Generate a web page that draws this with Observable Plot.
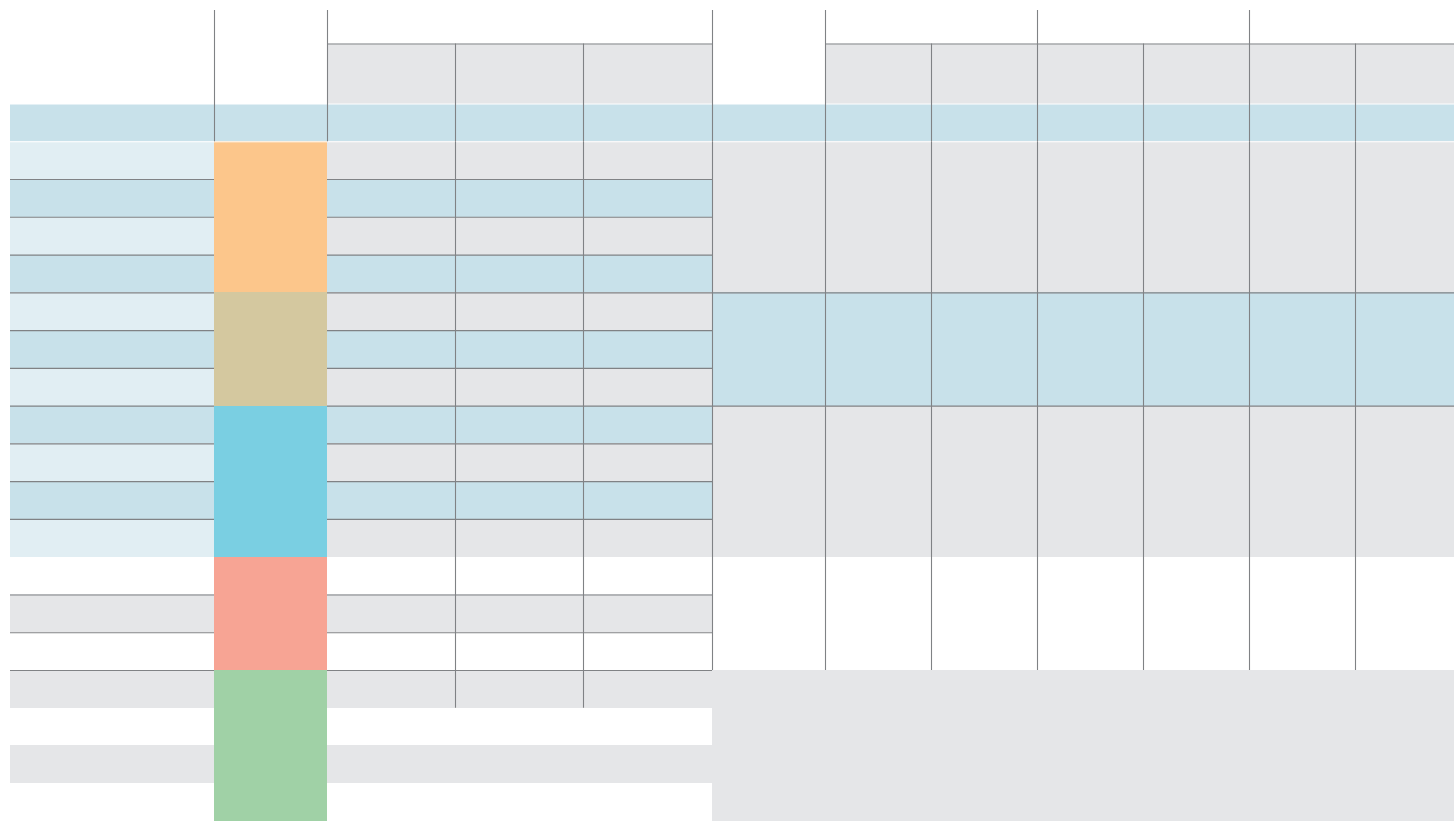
<!DOCTYPE html>
<html><head><meta charset="utf-8">
<script src="https://cdn.jsdelivr.net/npm/d3@7"></script>
<script src="https://cdn.jsdelivr.net/npm/@observablehq/plot@0.6"></script>
<style>html,body{margin:0;padding:0;background:#fff}svg{display:block}</style>
</head><body><div id="chart"></div>
<script>
// ---- Table structure (data) ----
const columns = ["A","B","C","D","E","F","G","H","I","J","K","L"];
// rows: two header rows, then body rows r0..r18
const rows = ["h1","h2","r0","r1","r2","r3","r4","r5","r6","r7","r8","r9","r10","r11","r12","r13","r14","r15","r16","r17","r18"];

// fill codes per column, one per row (h1, h2, r0..r18)
// W white, G gray, B blue, L light blue, O orange, T tan, C cyan, S salmon, N green
const colA = ["W","W","B","L","B","L","B","L","B","L","B","L","B","L","W","G","W","G","W","G","W"];
const colB = ["W","W","B","O","O","O","O","T","T","T","C","C","C","C","S","S","S","N","N","N","N"];
const colC = ["W","G","B","G","B","G","B","G","B","G","B","G","B","G","W","G","W","G","W","G","W"];
const colD = ["W","G","B","G","B","G","B","G","B","G","B","G","B","G","W","G","W","G","W","G","W"];
const colE = ["W","G","B","G","B","G","B","G","B","G","B","G","B","G","W","G","W","G","W","G","W"];
const colF = ["W","W","B","G","G","G","G","B","B","B","G","G","G","G","W","W","W","G","G","G","G"];
const colG = ["W","G","B","G","G","G","G","B","B","B","G","G","G","G","W","W","W","G","G","G","G"];
const colH = ["W","G","B","G","G","G","G","B","B","B","G","G","G","G","W","W","W","G","G","G","G"];
const colI = ["W","G","B","G","G","G","G","B","B","B","G","G","G","G","W","W","W","G","G","G","G"];
const colJ = ["W","G","B","G","G","G","G","B","B","B","G","G","G","G","W","W","W","G","G","G","G"];
const colK = ["W","G","B","G","G","G","G","B","B","B","G","G","G","G","W","W","W","G","G","G","G"];
const colL = ["W","G","B","G","G","G","G","B","B","B","G","G","G","G","W","W","W","G","G","G","G"];
const fillCodes = ["W","G","B","L","O","T","C","S","N"];

// horizontal rules: row whose top edge is ruled, from column to column (inclusive), kind
const hRuleRow  = ["h2","h2","r2","r3","r4","r5","r6","r7","r8","r9","r10","r11","r13","r14","r15",
                   "r2","r3","r4","r5","r6","r7","r8","r9","r10","r11","r13","r14","r15","r5","r8"];
const hRuleFrom = ["C","G","A","A","A","A","A","A","A","A","A","A","A","A","A",
                   "C","C","C","C","C","C","C","C","C","C","C","C","C","F","F"];
const hRuleTo   = ["E","L","A","A","A","A","A","A","A","A","A","A","A","A","A",
                   "E","E","E","E","E","E","E","E","E","E","E","E","E","L","L"];
const hRuleKind = ["head","head","body","body","body","body","body","body","body","body","body","body","body","body","body",
                   "body","body","body","body","body","body","body","body","body","body","body","body","body","body","body"];

// vertical rules: column whose left edge is ruled, from row to row (inclusive)
const vRuleCol  = ["B","C","F","G","I","K","D","E","H","J","L","D","E","F","G","H","I","J","K","L"];
const vRuleFrom = ["h1","h1","h1","h1","h1","h1","h2","h2","h2","h2","h2","r1","r1","r1","r1","r1","r1","r1","r1","r1"];
const vRuleTo   = ["r0","r0","r0","r0","r0","r0","r0","r0","r0","r0","r0","r15","r15","r14","r14","r14","r14","r14","r14","r14"];

// ---- Layout / style ----
const colUnits = [204,113,128,128,129,113,106,106,106,106,106,99];
const rowUnits = [33.5,60].concat(rows.slice(2).map(() => 37.75));
const palette = ["#ffffff","#e5e6e8","#c8e1ea","#e1eef3","#fcc68b","#d4c89f","#7acfe2","#f7a494","#a0d1a6"];

const colEdge = d3.cumsum([0, ...colUnits]);
const rowEdge = d3.cumsum([0, ...rowUnits]);
const ci = c => columns.indexOf(c);
const ri = r => rows.indexOf(r);

const colData = [colA,colB,colC,colD,colE,colF,colG,colH,colI,colJ,colK,colL];
const cells = [];
columns.forEach((c, i) => rows.forEach((r, j) => cells.push({col: c, row: r, fill: colData[i][j]})));

const hRules = hRuleRow.map((r, i) => ({row: r, from: hRuleFrom[i], to: hRuleTo[i], kind: hRuleKind[i]}));
const vRules = vRuleCol.map((c, i) => ({col: c, from: vRuleFrom[i], to: vRuleTo[i]}));
const gapRows = ["r0","r1"];

const chart = Plot.plot({
  width: 1454,
  height: 821,
  marginLeft: 10, marginRight: 0, marginTop: 10, marginBottom: 0,
  x: {domain: [0, colEdge[colEdge.length - 1]], axis: null},
  y: {domain: [0, rowEdge[rowEdge.length - 1]], reverse: true, axis: null},
  color: {type: "ordinal", domain: fillCodes, range: palette},
  marks: [
    Plot.rect(cells.filter(d => d.fill !== "W"), {
      x1: d => colEdge[ci(d.col)], x2: d => colEdge[ci(d.col) + 1],
      y1: d => rowEdge[ri(d.row)], y2: d => rowEdge[ri(d.row) + 1],
      fill: "fill", inset: 0, shapeRendering: "crispEdges"
    }),
    Plot.ruleY(gapRows, {
      y: d => rowEdge[ri(d)], x1: colEdge[0], x2: colEdge[colEdge.length - 1],
      stroke: "#ffffff", strokeWidth: 1
    }),
    Plot.ruleY(hRules, {
      y: d => rowEdge[ri(d.row)], x1: d => colEdge[ci(d.from)], x2: d => colEdge[ci(d.to) + 1],
      stroke: d => d.kind === "head" ? "#a5a7aa" : "#808285",
      strokeWidth: d => d.kind === "head" ? 1.5 : 1.1
    }),
    Plot.ruleX(vRules, {
      x: d => colEdge[ci(d.col)], y1: d => rowEdge[ri(d.from)], y2: d => rowEdge[ri(d.to) + 1],
      stroke: "#808285", strokeWidth: 1.1
    })
  ]
});
document.getElementById("chart").append(chart);
</script>
</body></html>
